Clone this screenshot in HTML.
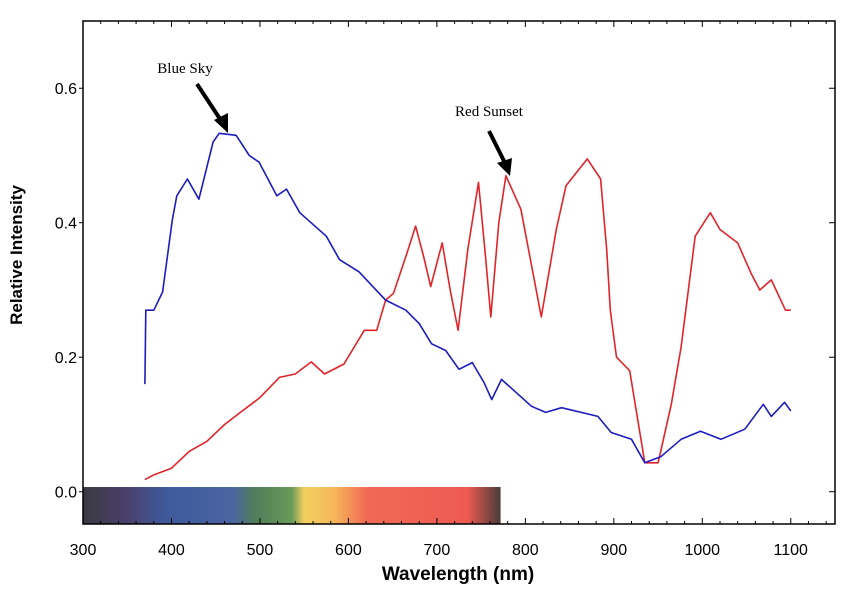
<!DOCTYPE html>
<html><head><meta charset="utf-8"><style>
body{margin:0;background:#fff;}
svg text{font-family:"Liberation Sans",sans-serif;}
</style></head><body>
<svg id="chart" width="850" height="587" viewBox="0 0 850 587" xmlns="http://www.w3.org/2000/svg">
<defs>
<linearGradient id="spec" x1="0" x2="1" y1="0" y2="0">
<stop offset="0" stop-color="#3a3a40"/>
<stop offset="0.1" stop-color="#4a3f6a"/>
<stop offset="0.2" stop-color="#3f5a9c"/>
<stop offset="0.36" stop-color="#4a65a0"/>
<stop offset="0.41" stop-color="#4f7d5a"/>
<stop offset="0.5" stop-color="#6a9a58"/>
<stop offset="0.53" stop-color="#f2d060"/>
<stop offset="0.6" stop-color="#f6b85a"/>
<stop offset="0.68" stop-color="#f06a55"/>
<stop offset="0.92" stop-color="#ee5a52"/>
<stop offset="1" stop-color="#4a3a38"/>
</linearGradient>
</defs>
<g id="spectrum"></g>
<g id="axes"></g>
<g id="series"></g>
<text transform="translate(22,255) rotate(-90)" text-anchor="middle" font-size="17" font-weight="bold">Relative Intensity</text>
<text x="458" y="580" text-anchor="middle" font-size="19" font-weight="bold">Wavelength (nm)</text>
<g>
<text x="185" y="73" text-anchor="middle" font-size="15" style="font-family:'Liberation Serif',serif">Blue Sky</text>
<line x1="197" y1="84" x2="222" y2="122" stroke="#000" stroke-width="4"/>
<polygon points="228,133 214,120 228,113" fill="#000"/>
</g>
<g>
<text x="489" y="116" text-anchor="middle" font-size="15" style="font-family:'Liberation Serif',serif">Red Sunset</text>
<line x1="489" y1="131" x2="505" y2="163" stroke="#000" stroke-width="4"/>
<polygon points="510,176 497,163 512,158" fill="#000"/>
</g>
</svg>
<script>
const blueWl=[370,371,380,390,401,406,418,431,447,454,473,488,499,519,530,545,575,590,612,642,665,680,694,710,725,740,753,762,773,807,823,841,882,897,920,935,953,976,998,1021,1048,1069,1078,1093,1100];
const blueVal=[0.16,0.27,0.27,0.297,0.405,0.44,0.465,0.435,0.52,0.533,0.53,0.50,0.49,0.44,0.45,0.415,0.38,0.345,0.327,0.285,0.27,0.25,0.22,0.21,0.182,0.192,0.163,0.137,0.167,0.127,0.118,0.125,0.112,0.088,0.078,0.043,0.052,0.078,0.09,0.078,0.093,0.13,0.112,0.133,0.12];
const redWl=[370,380,400,420,440,460,480,500,522,540,558,573,595,618,632,642,651,665,676,685,693,706,715,724,735,747,755,761,770,778,795,818,835,846,870,885,892,896,903,918,935,950,965,976,992,1009,1020,1040,1055,1065,1078,1094,1100];
const redVal=[0.018,0.025,0.035,0.06,0.075,0.1,0.12,0.14,0.17,0.175,0.193,0.175,0.19,0.24,0.24,0.285,0.295,0.35,0.395,0.35,0.305,0.37,0.3,0.24,0.36,0.46,0.35,0.26,0.4,0.47,0.42,0.26,0.39,0.455,0.495,0.465,0.36,0.27,0.2,0.18,0.043,0.043,0.13,0.215,0.38,0.415,0.39,0.37,0.325,0.30,0.315,0.27,0.27];
const xTicks=[300,400,500,600,700,800,900,1000,1100];
const yTicks=[0,0.2,0.4,0.6];
const yTickLabels=["0.0","0.2","0.4","0.6"];
const X0=300,X1=1150,Y0=-0.048,Y1=0.70;
const L=83,R=835,T=21,B=524;
function sx(v){return L+(v-X0)/(X1-X0)*(R-L);}
function sy(v){return B-(v-Y0)/(Y1-Y0)*(B-T);}
const NS="http://www.w3.org/2000/svg";
function mk(tag,attrs,parent){const e=document.createElementNS(NS,tag);for(const k in attrs)e.setAttribute(k,attrs[k]);parent.appendChild(e);return e;}
const sp=document.getElementById('spectrum');
const rect=mk('rect',{x:sx(300),y:sy(0.007),width:sx(772)-sx(300),height:B-sy(0.007),fill:'url(#spec)'},sp);


const ax=document.getElementById('axes');
const frame=mk('rect',{x:L,y:T,width:R-L,height:B-T,fill:'none',stroke:'#000','stroke-width':1.5},ax);


for(let v=300;v<=1140;v+=20){const x=sx(v);const len=(v%100===0)?6:3;
mk('line',{x1:x,y1:B,x2:x,y2:B-len,stroke:'#000','stroke-width':1},ax);
mk('line',{x1:x,y1:T,x2:x,y2:T+len,stroke:'#000','stroke-width':1},ax);}
xTicks.forEach(v=>{const t=mk('text',{x:sx(v),y:B+31,'text-anchor':'middle','font-size':16},ax);t.textContent=v;

});
yTicks.forEach((v,i)=>{const y=sy(v);
mk('line',{x1:L-4,y1:y,x2:L,y2:y,stroke:'#000','stroke-width':1},ax);
mk('line',{x1:R,y1:y,x2:R-6,y2:y,stroke:'#000','stroke-width':1},ax);
const t=mk('text',{x:L-6,y:y+6,'text-anchor':'end','font-size':16},ax);t.textContent=yTickLabels[i];

});
const se=document.getElementById('series');
function line(wl,val,color,name){const d=wl.map((w,i)=>(i?'L':'M')+sx(w).toFixed(1)+','+sy(val[i]).toFixed(1)).join(' ');
const p=mk('path',{d:d,fill:'none',stroke:color,'stroke-width':1.6,'stroke-linejoin':'round'},se);

}
line(redWl,redVal,'#e0242a','red-sunset-line');
line(blueWl,blueVal,'#1c1cc0','blue-sky-line');
</script>
</body></html>
